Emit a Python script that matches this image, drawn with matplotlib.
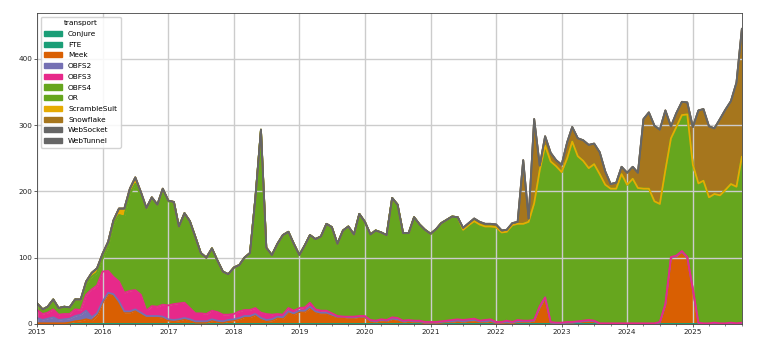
import matplotlib
matplotlib.use('Agg')
import matplotlib.pyplot as plt
import matplotlib.dates as mdates
from matplotlib.patches import Patch
import numpy as np
import pandas as pd

fechas = pd.date_range('2015-01-01', periods=130, freq='MS')

transportes = ['Conjure', 'FTE', 'Meek', 'OBFS2', 'OBFS3', 'OBFS4', 'OR',
               'ScrambleSuit', 'Snowflake', 'WebSocket', 'WebTunnel']

conjure = [0] * 130
fte = [0] * 130

meek = [
    1, 1, 1, 1, 1, 1, 2, 4, 5, 7, 5, 12,            # 2015
    32, 45, 43, 32, 17, 17, 20, 15, 10, 10, 10, 9,  # 2016
    5, 4, 5, 7, 5, 2, 2, 2, 5, 3, 2, 4,             # 2017
    5, 7, 10, 10, 13, 7, 4, 5, 9, 8, 17, 14,        # 2018
    18, 18, 24, 17, 15, 15, 12, 10, 10, 9, 9, 10,   # 2019
    10, 4, 3, 5, 4, 7, 6, 3, 4, 3, 3, 1,            # 2020
    1, 1, 2, 3, 3, 4, 3, 4, 5, 3, 3, 4,             # 2021
    1, 1, 2, 1, 3, 3, 3, 5, 25, 39, 2, 1,           # 2022
    1, 2, 2, 3, 4, 5, 4, 0, 0, 0, 0, 0,             # 2023
    0, 0, 0, 0, 0, 0, 2, 29, 100, 102, 109, 100,    # 2024
    52, 1, 0, 0, 1, 0, 0, 1, 0, 1]                  # 2025

obfs2 = [
    8, 5, 7, 9, 5, 6, 6, 8, 9, 13, 5, 4,
    2, 2, 2, 2, 2, 2, 2, 2, 2, 2, 2, 2,
    2, 2, 2, 2, 2, 2, 2, 2, 2, 2, 2, 2,
    2, 2, 2, 2, 2, 2, 2, 2, 2, 2, 2, 2,
    2, 2, 2, 2, 2, 2, 2, 1, 1, 1, 1, 1,
    1, 1, 1, 1, 1, 1, 1, 1, 1, 1, 1, 1,
    1, 1, 1, 1, 1, 1, 1, 1, 1, 1, 1, 1,
    1, 1, 1, 1, 1, 1, 1, 0, 0, 1, 0, 0,
    0, 0, 0, 0, 0, 0, 0, 0, 0, 0, 0, 0,
    0, 0, 0, 0, 0, 0, 0, 0, 0, 0, 0, 0,
    0, 0, 0, 0, 0, 0, 0, 0, 0, 0]

obfs3 = [
    12, 9, 9, 12, 8, 8, 7, 10, 7, 24, 42, 42,
    45, 33, 26, 30, 28, 31, 29, 27, 8, 15, 14, 18,
    21, 24, 24, 23, 17, 12, 12, 11, 13, 13, 10, 8,
    8, 10, 9, 9, 9, 8, 9, 7, 4, 4, 5, 4,
    4, 5, 6, 3, 3, 3, 2, 1, 0, 1, 1, 1,
    1, 1, 1, 1, 1, 2, 2, 1, 1, 1, 1, 1,
    1, 1, 1, 1, 2, 2, 2, 2, 2, 1, 2, 2,
    1, 1, 2, 1, 2, 1, 1, 1, 2, 0, 1, 1,
    1, 1, 1, 1, 1, 1, 1, 1, 1, 1, 1, 1,
    1, 1, 1, 1, 1, 1, 1, 1, 1, 1, 1, 1,
    1, 1, 1, 1, 1, 1, 1, 1, 1, 1]

obfs4 = [
    10, 7, 9, 15, 10, 11, 10, 15, 15, 16, 19, 19,
    20, 36, 79, 100, 115, 146, 160, 150, 153, 163, 153, 174,
    157, 154, 116, 135, 131, 115, 91, 85, 94, 78, 65, 61,
    70, 70, 79, 86, 166, 276, 100, 90, 106, 120, 115, 101,
    80, 94, 102, 106, 112, 131, 130, 109, 130, 136, 124, 154,
    142, 129, 136, 131, 128, 180, 171, 132, 131, 156, 145, 139,
    133, 140, 148, 152, 156, 154, 136, 142, 147, 145, 141, 140,
    143, 135, 134, 146, 145, 146, 149, 176, 205, 229, 242, 236,
    227, 247, 272, 249, 241, 229, 236, 225, 209, 203, 203, 225,
    209, 218, 204, 203, 203, 184, 178, 202, 179, 194, 205, 215,
    187, 210, 215, 190, 194, 193, 201, 209, 206, 250]

o_r = [0] * 130

scramblesuit = [
    0, 0, 0, 0, 0, 0, 0, 0, 1, 4, 6, 7,
    7, 8, 6, 10, 12, 8, 10, 5, 2, 1, 1, 1,
    1, 0, 0, 0, 0, 0, 0, 0, 0, 0, 0, 0] + [0] * 94

snowflake = [0] * 72 + [
    0, 0, 0, 0, 0, 0, 3, 3, 4, 4, 4, 4,                 # 2021
    4, 3, 3, 3, 3, 96, 5, 127, 7, 14, 13, 9,            # 2022
    11, 24, 22, 27, 31, 35, 31, 33, 20, 7, 9, 11,       # 2023
    18, 18, 23, 105, 115, 114, 112, 90, 18, 21, 20, 18,  # 2024
    57, 110, 108, 107, 99, 115, 121, 125, 157, 193]     # 2025

websocket = [0] * 130
webtunnel = [0] * 130

series = [conjure, fte, meek, obfs2, obfs3, obfs4, o_r,
          scramblesuit, snowflake, websocket, webtunnel]

colores = plt.get_cmap('Dark2')(np.linspace(0, 1, len(series)))

fig = plt.figure(figsize=(7.57, 3.41), dpi=100)
ax = fig.add_axes([0.049, 0.05, 0.931, 0.912])

# areas apiladas
abajo = np.zeros(len(fechas))
for valores, color in zip(series, colores):
    arriba = abajo + np.array(valores, dtype=float)
    ax.fill_between(fechas, abajo, arriba, color=color, linewidth=0)
    ax.plot(fechas, arriba, color=color, linewidth=1.3)
    abajo = arriba

ax.set_xlim(fechas[0], fechas[-1])
ax.set_ylim(0, 469)
ax.set_yticks([0, 100, 200, 300, 400])
ax.xaxis.set_major_locator(mdates.YearLocator())
ax.xaxis.set_major_formatter(mdates.DateFormatter('%Y'))
ax.xaxis.set_minor_locator(mdates.MonthLocator(bymonth=(1, 4, 7, 10)))

ax.grid(True, color='#cccccc', linewidth=1.0)
ax.tick_params(which='major', labelsize=5.2, length=2, width=0.5, pad=1.5, colors='#222222')
ax.tick_params(which='minor', length=1.2, width=0.4, colors='#222222')
for s in ax.spines.values():
    s.set_linewidth(0.6)
    s.set_color('#444444')

manijas = [Patch(facecolor=c, edgecolor=c, label=n) for n, c in zip(transportes, colores)]
ax.legend(handles=manijas, title='transport', loc='upper left', fontsize=5.3,
          title_fontsize=5.3, borderpad=0.5, labelspacing=0.62, handlelength=2.4,
          framealpha=0.85)

fig.savefig('out.png', dpi=100)
